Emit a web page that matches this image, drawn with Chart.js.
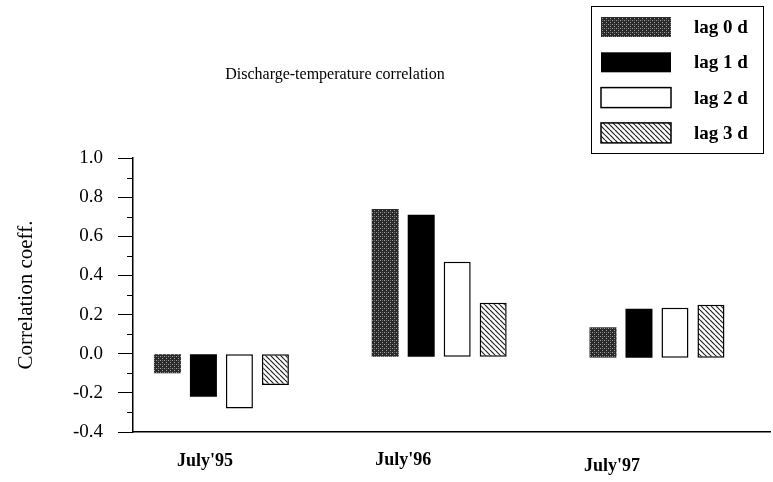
<!DOCTYPE html>
<html>
<head>
<meta charset="utf-8">
<script src="https://cdn.jsdelivr.net/npm/chart.js@4.4.1/dist/chart.umd.min.js"></script>
<style>
  html, body { margin: 0; padding: 0; background: #fff; }
  #wrap { width: 773px; height: 482px; }
</style>
</head>
<body>
<div id="wrap"><canvas id="corrChart" width="773" height="482"></canvas></div>
<script>
// data
const groups = ["July'95", "July'96", "July'97"];
const seriesNames = ['lag 0 d', 'lag 1 d', 'lag 2 d', 'lag 3 d'];
const lag0 = [-0.10, 0.74, 0.135];
const lag1 = [-0.22, 0.71, 0.23];
const lag2 = [-0.28, 0.47, 0.235];
const lag3 = [-0.16, 0.26, 0.25];
// bars of the later years start a little below zero in the original
const groupBase = [0, -0.015, -0.02];
const yTicks = [-0.4, -0.2, 0.0, 0.2, 0.4, 0.6, 0.8, 1.0];
const yMinorTicks = [-0.3, -0.1, 0.1, 0.3, 0.5, 0.7, 0.9];

const FONT = "'Liberation Serif', 'DejaVu Serif', serif";

// fill patterns
function makePattern(size, draw) {
    const c = document.createElement('canvas');
    c.width = size; c.height = size;
    const g = c.getContext('2d');
    draw(g, size);
    return g.createPattern(c, 'repeat');
}
const dotPattern = makePattern(4, function (g) {
    g.fillStyle = '#2a2a2a';
    g.fillRect(0, 0, 4, 4);
    g.fillStyle = '#a0a0a0';
    g.fillRect(0, 0, 1, 1);
    g.fillRect(2, 2, 1, 1);
    g.fillStyle = '#6a6a6a';
    g.fillRect(2, 0, 1, 1);
});
const hatchPattern = makePattern(5, function (g, s) {
    g.fillStyle = '#fff';
    g.fillRect(0, 0, s, s);
    g.strokeStyle = '#222';
    g.lineWidth = 1.2;
    for (let k = -1; k <= 1; k++) {
        g.beginPath();
        g.moveTo(k * s, 0);
        g.lineTo(k * s + s, s);
        g.stroke();
    }
});

function toBars(values) {
    return values.map((v, i) => ({ x: i + 1, y: [Math.min(v, groupBase[i]), Math.max(v, groupBase[i])] }));
}

const styles = [
    { bg: dotPattern, border: '#333', bw: 0 },
    { bg: '#000', border: '#000', bw: 0 },
    { bg: '#fff', border: '#000', bw: 1.5 },
    { bg: hatchPattern, border: '#000', bw: 1.5 }
];
const allSeries = [lag0, lag1, lag2, lag3];

const datasets = allSeries.map((vals, i) => ({
    label: seriesNames[i],
    data: toBars(vals),
    backgroundColor: styles[i].bg,
    borderColor: styles[i].border,
    borderWidth: styles[i].bw,
    borderSkipped: false,
    categoryPercentage: 0.661,
    barPercentage: 0.75
}));

// title, legend box, group labels and minor ticks
const decorations = {
    id: 'decorations',
    afterDraw(chart) {
        const ctx = chart.ctx;
        const yScale = chart.scales.y;
        const xScale = chart.scales.x;
        ctx.save();

        // minor ticks on the y axis
        ctx.strokeStyle = '#000';
        ctx.lineWidth = 1;
        yMinorTicks.forEach(v => {
            const py = Math.round(yScale.getPixelForValue(v)) + 0.5;
            ctx.beginPath();
            ctx.moveTo(yScale.right - 6, py);
            ctx.lineTo(yScale.right, py);
            ctx.stroke();
        });

        // group labels, set a bit left of the bar groups as in the original
        ctx.fillStyle = '#000';
        ctx.font = 'bold 18px ' + FONT;
        ctx.textAlign = 'center';
        ctx.textBaseline = 'middle';
        const shift = [-0.075, -0.165, -0.206];
        const drop = [461, 460, 466];
        groups.forEach((g, i) => {
            ctx.fillText(g, xScale.getPixelForValue(i + 1 + shift[i]), drop[i]);
        });

        // title
        ctx.font = '16px ' + FONT;
        ctx.fillText('Discharge-temperature correlation', 335, 75);

        // legend
        ctx.lineWidth = 1;
        ctx.strokeRect(591.5, 6.5, 172, 147);
        ctx.font = 'bold 19px ' + FONT;
        ctx.textAlign = 'left';
        chart.data.datasets.forEach((ds, i) => {
            const cy = 27 + i * 35.3;
            ctx.fillStyle = ds.backgroundColor;
            ctx.fillRect(601, cy - 10, 70, 20);
            if (ds.borderWidth) {
                ctx.lineWidth = ds.borderWidth;
                ctx.strokeStyle = ds.borderColor;
                ctx.strokeRect(601, cy - 10, 70, 20);
            }
            ctx.fillStyle = '#000';
            ctx.fillText(ds.label, 694, cy + 1);
        });
        ctx.restore();
    }
};

const ctx = document.getElementById('corrChart').getContext('2d');
new Chart(ctx, {
    type: 'bar',
    data: { datasets: datasets },
    options: {
        responsive: false,
        animation: false,
        layout: { padding: { top: 158, right: 3, left: 0, bottom: 0 } },
        plugins: {
            legend: { display: false },
            tooltip: { enabled: false }
        },
        scales: {
            x: {
                type: 'linear',
                offset: false,
                min: 0.594,
                max: 3.519,
                afterBuildTicks: function (scale) {
                    scale.ticks = groups.map((g, i) => ({ value: i + 1 }));
                },
                afterFit: function (scale) { scale.height = 50; },
                grid: { display: false, drawTicks: false },
                border: { display: true, color: '#000', width: 1.5 },
                ticks: { display: false }
            },
            y: {
                min: -0.4,
                max: 1.0,
                afterBuildTicks: function (scale) {
                    scale.ticks = yTicks.map(v => ({ value: v }));
                },
                afterFit: function (scale) { scale.width = 133; },
                grid: {
                    drawOnChartArea: false,
                    drawTicks: true,
                    tickLength: 15,
                    color: '#000'
                },
                border: { display: true, color: '#000', width: 1.5 },
                ticks: {
                    padding: 15,
                    color: '#000',
                    font: { family: FONT, size: 19 },
                    callback: function (value) { return value.toFixed(1); }
                },
                title: {
                    display: true,
                    text: 'Correlation coeff.',
                    color: '#000',
                    font: { family: FONT, size: 21 },
                    padding: { top: 14, bottom: 0 }
                }
            }
        }
    },
    plugins: [decorations]
});
</script>
</body>
</html>
